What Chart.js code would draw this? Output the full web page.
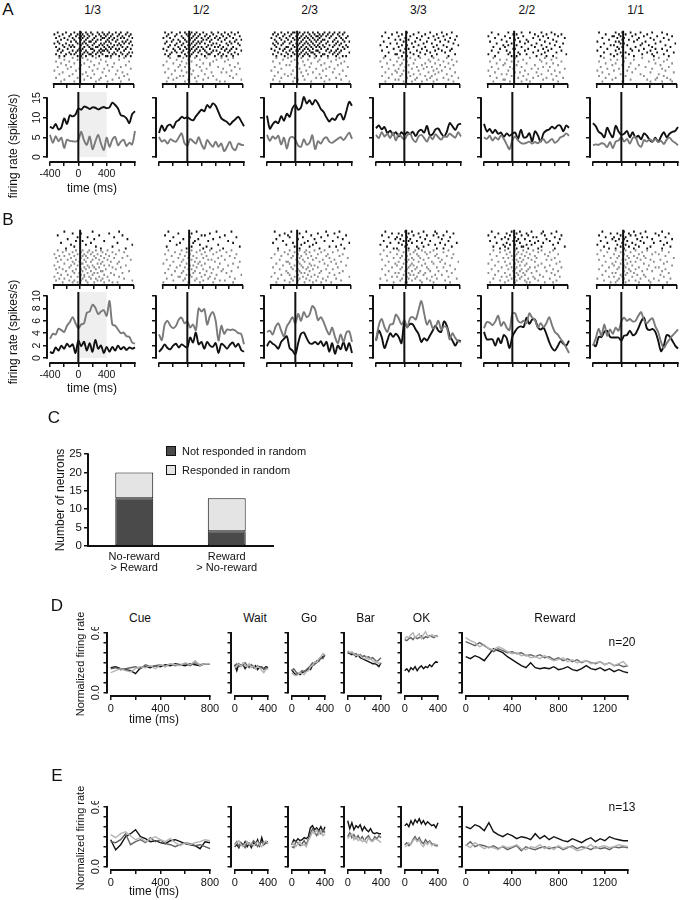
<!DOCTYPE html>
<html>
<head>
<meta charset="utf-8">
<script src="https://cdn.jsdelivr.net/npm/chart.js@4.4.1/dist/chart.umd.min.js"></script>
<style>
  html, body { margin: 0; padding: 0; background: #fff; }
  #fig { position: relative; width: 680px; height: 900px; overflow: hidden;
         font-family: "Liberation Sans", Arial, sans-serif; color: #111; }
  #fig canvas { position: absolute; }
  .t { position: absolute; white-space: nowrap; line-height: 1; }
  .sq { position: absolute; width: 8px; height: 8px; border: 1px solid #111; }
</style>
</head>
<body>
<div id="fig"></div>
<script>
// ---------- data ----------
const A_TITLES = ['1/3', '1/2', '2/3', '3/3', '2/2', '1/1'];
const RATE_T = [-400,-360,-320,-280,-240,-200,-160,-120,-80,-40,0,40,80,120,160,200,240,280,320,360,400,440,480,520,560,600,640,680,720,760,800];
const RATE_TIME_TICKS = [-400, -200, 0, 200, 400, 600, 800];
const RATE_TIME_LABELS = [-400, 0, 400];
const A_RATE_TICKS = [0, 5, 10, 15];
const B_RATE_TICKS = [0, 2, 4, 6, 8, 10];
const WINDOW_MS = [0, 400];

// panel A firing rate (spikes/s), one row per condition
const A_BLACK = [
  [7.7,7.3,8.4,7.0,7.5,9.8,8.4,10.6,10.3,10.8,12.3,12.0,12.8,12.6,12.2,12.6,12.5,12.1,12.4,12.7,12.4,12.6,13.8,13.2,12.3,10.6,10.4,9.8,8.6,10.9,11.6],
  [6.1,8.0,6.6,7.9,8.2,7.4,8.9,9.4,10.2,9.8,10.1,9.6,9.3,10.3,11.2,12.0,11.6,13.2,12.5,13.6,13.0,11.4,9.8,9.3,8.9,8.2,9.0,9.6,10.2,9.1,7.8],
  [10.5,7.2,8.3,9.0,8.6,10.4,9.2,11.0,10.2,12.4,13.2,12.0,12.6,15.2,13.6,14.4,13.3,14.5,13.6,12.2,11.4,10.0,9.0,9.8,9.4,10.6,10.9,9.5,11.6,14.0,13.0],
  [7.3,8.0,7.0,7.6,6.1,6.7,5.6,6.3,5.2,6.3,5.6,6.3,5.8,6.4,5.3,6.5,6.9,6.2,7.9,5.5,5.8,7.0,7.2,6.0,5.2,6.4,8.6,7.8,6.9,8.2,8.5],
  [8.4,6.5,7.1,6.1,6.9,5.9,6.2,5.1,6.0,5.4,5.9,6.2,4.6,6.9,5.0,5.1,6.0,4.0,6.5,5.5,3.9,6.0,6.7,7.0,7.7,7.2,8.0,7.9,6.5,8.0,7.4],
  [8.6,7.8,6.4,5.9,5.0,7.4,6.0,5.0,7.9,6.5,5.6,5.9,6.6,5.0,6.3,4.9,5.4,4.5,6.0,5.4,4.3,3.9,4.9,3.8,5.2,6.3,5.0,5.9,6.4,6.6,7.6]
];
const A_GRAY = [
  [5.6,3.6,5.3,4.0,4.9,2.3,4.4,4.1,4.0,3.9,4.3,6.4,4.2,3.1,5.2,2.0,3.9,5.6,3.4,1.8,4.9,2.6,4.4,5.1,3.0,3.9,4.4,2.8,3.6,3.2,6.6],
  [5.1,3.9,4.3,3.4,4.5,4.1,3.9,5.0,6.0,3.5,2.9,4.6,4.0,3.4,5.0,3.2,2.1,4.3,3.4,2.6,3.9,2.6,3.4,1.5,2.6,3.9,2.2,1.8,3.4,3.1,3.0],
  [5.6,4.1,5.2,4.6,5.4,3.2,4.9,2.1,4.8,5.1,4.4,2.9,2.6,4.5,3.1,3.6,5.5,2.0,4.0,3.4,4.6,5.0,3.9,3.6,4.1,4.6,5.0,4.3,5.2,6.2,4.6],
  [5.6,4.8,6.3,5.2,5.9,4.8,6.2,4.2,5.8,5.1,4.5,5.5,6.0,4.5,3.8,5.2,5.6,4.8,3.9,5.3,4.5,5.8,5.0,4.4,5.3,5.1,5.9,5.4,4.9,6.3,5.2],
  [5.0,4.6,5.4,4.2,5.0,4.4,5.5,4.6,3.2,2.0,4.2,5.2,4.2,3.6,3.4,3.6,3.9,3.4,3.8,3.5,4.1,4.5,3.6,4.0,4.6,3.6,4.1,5.0,5.3,6.0,5.4],
  [3.0,3.2,3.1,3.5,3.3,2.5,3.8,2.2,3.9,4.2,5.0,3.9,4.6,3.4,4.8,5.1,3.2,2.6,4.3,3.9,4.5,4.0,4.6,3.8,4.1,3.3,4.4,4.9,4.1,3.6,3.0]
];
// panel B firing rate (spikes/s)
const B_BLACK = [
  [1.0,0.8,1.7,1.2,2.0,1.5,2.3,1.8,2.2,0.8,2.8,1.9,2.6,1.2,2.4,1.0,2.9,1.5,2.0,0.8,1.8,1.0,1.8,1.2,2.0,1.4,1.8,1.3,1.7,1.5,1.7],
  [1.0,1.5,2.2,1.6,1.4,2.0,2.3,1.7,2.2,1.9,1.7,3.3,2.5,4.1,2.2,2.6,1.5,2.6,2.0,1.8,2.4,0.8,2.3,2.0,1.5,2.1,2.5,1.8,2.3,1.3,1.0],
  [1.9,2.7,2.3,2.0,1.5,2.6,3.1,3.5,1.6,1.2,0.6,2.4,3.9,4.1,3.2,2.4,2.3,2.6,2.2,2.7,1.9,2.6,1.0,2.4,0.7,2.0,1.4,2.6,1.2,2.4,0.8],
  [2.8,4.4,3.4,1.6,2.8,4.0,3.4,3.9,3.4,2.4,5.8,5.0,5.5,5.4,4.6,3.9,2.6,3.2,2.8,3.6,4.4,5.2,4.4,4.2,5.9,5.2,3.6,2.8,2.0,2.8,2.7],
  [4.2,3.0,3.0,3.0,2.0,3.2,2.4,3.7,3.2,1.6,3.4,4.3,4.9,5.1,5.0,6.5,5.5,6.2,6.2,5.0,4.6,4.9,3.9,2.6,1.6,1.2,1.9,2.7,2.3,2.0,2.8],
  [2.3,1.9,3.4,3.4,4.2,4.4,3.4,3.3,3.3,3.3,2.8,3.6,3.7,4.4,3.7,3.9,4.8,5.9,6.5,4.8,4.5,4.7,4.2,2.8,1.1,2.0,3.7,3.5,2.8,2.0,1.5]
];
const B_GRAY = [
  [3.1,3.9,3.8,4.7,4.5,4.2,5.2,5.8,6.6,5.6,4.8,5.4,5.6,7.3,7.5,8.6,8.1,7.1,7.5,7.7,6.8,9.2,5.4,5.2,4.6,4.0,4.1,3.5,3.4,2.5,2.3],
  [3.8,2.9,5.4,6.0,5.2,4.8,5.2,6.2,6.5,5.6,5.9,4.9,5.4,4.5,8.0,7.5,7.9,5.4,6.8,7.4,6.0,2.8,5.2,3.9,4.6,4.5,4.6,4.4,4.0,3.9,2.2],
  [4.2,4.4,3.8,5.0,5.6,4.4,3.5,5.1,5.8,6.6,5.6,7.1,6.0,7.4,6.6,7.0,8.4,7.8,6.1,6.6,5.8,4.6,3.8,4.9,3.4,2.4,3.8,2.6,4.1,4.3,2.6],
  [2.8,5.3,6.3,5.0,4.2,5.4,5.5,7.0,6.4,5.4,6.1,4.9,6.4,6.6,6.2,7.7,9.2,7.2,5.4,6.1,4.8,5.0,6.0,4.6,5.1,4.9,3.0,4.0,3.2,2.7,2.6],
  [4.8,5.8,5.7,5.3,5.9,6.8,5.2,5.8,4.9,4.5,7.2,7.2,6.0,5.7,6.0,5.6,7.2,6.5,6.1,4.9,5.6,5.0,5.6,6.6,5.3,4.2,3.8,3.1,2.5,1.7,0.8],
  [2.0,3.2,4.7,3.6,5.4,3.6,4.6,3.9,4.9,4.4,5.9,6.5,6.0,6.3,5.9,6.0,6.8,7.4,6.1,5.6,6.1,6.4,5.1,4.2,2.6,1.6,2.4,3.0,3.6,4.1,4.6]
];

// rasters: one string per trial, each character is the 25 ms bin of a spike (from -400 ms)
const SPIKE_BINS = '0123456789abcdefghijklmnopqrstuvwxyzABCDEFGHIJKL';
const A_RASTER_BLACK = [
  ['27cgjmqtxBEI','05aehknruwzDHK','39dgilpsvyCFJ','16bfhkotuxAEGL','48cgjnqswzCI','2adilmpvxBFHK','037ehjosuyDGJ','59bgknrtwACEL','16acilpquxzFI','38fhmnsvyBDHK','25begjortuwCG','49diknqsxAEJL','17achlmptzBFI','36egjnrvwyDHK'],
  ['15adhkotxBFJ','38egjmquzDH','27bfilpswAEK','04chknrvyCG','69dgjoqtxBIL','25aeilnszEH','18chkmpuwCFJ','47bfgjrtyDK','39dilnqvxAG','06aehkoszCFI','27cgjmpuwBEL','58bfilqtyDH','14dhnrsxAFJ','39aegkpvzCG'],
  ['26adehkmpswzCFI','148cgjnqtvyBEH','37bfilorsuxAFK','059dhkmptzDGJ','26aegjnqsvwCH','38ciloruyBEIL','147bfhkmptxDG','26dgjnqsvzCFJ','39aeilortwBHK','058chkmpuyEI','27bfgjnrsxADG','49diloptzCFL','16aehkmqvwBE','38cgjnruyDHJ'],
  ['3agnuBH','7dkryE','1bipwCK','5fmtzG','9choxDJ','2elsAF','6ajqvI','0dgnyCL','4bkrwE','8fhpzH','1cmsxBG','5eiouD','9akryJ','3dgnvF'],
  ['2ckpwC','6fhszEI','0aluxG','4dirAK','8gnvD','1bjoyF','5emtBJ','9chqwE','3akszH','7fgoxC','2bmuAI','6diryF','0cjnwL','4ehtzD'],
  ['1bfkqxD','5dhnuG','9aelsAJ','3cgpwE','7fjoyH','0bdmtC','4egrzL','8aiqvF','2cfnxI','6dkszD','0blpwG','4ehuAK','8cjrxE','2afmyH']
];
const A_RASTER_GRAY = [
  ['3bhpyG','6eksD','19mvJ','4cirA','7gowH','2alzE','8fquK','0dnxC','5jtF','3bhoBI','9kvG','1emsD','6irzJ','4cpwE'],
  ['4cjqzG','8fmwD','2bhuB','6eosJ','0aksE','9dmxH','3gqAK','7binF','1etzC','5hpI','acluE','38jrG','6fowL','2dkyB'],
  ['3aiqyF','7emtD','1cjsAI','5gowG','9bkuE','2fnzK','6hrxC','0dlvH','4ipB','8cmtF','2ajxJ','6eruD','1gkzG','5dowL'],
  ['2biowE','6eltzH','0aguCK','4dkrxF','8chpAI','1fmsvD','5bjqyG','9enwB','3ahtzJ','7dkoxE','1cirvH','5gmuCL','9blsyF','3ejpwI'],
  ['3gpyF','7blvC','1eiwI','5anzD','9hsG','2dkxB','6fquK','0cmAE','4gjtH','8bowC','1eluF','5irzJ','9anxD','3dkpG'],
  ['4hrB','8cmyG','1gvE','5bkzJ','9fpC','2jtH','6dnxD','0aiF','3lwK','7eqB','1hsE','5bAG','9kuzI','3fwDJ']
];
const B_RASTER_BLACK = [
  ['6nD','bgx','2rF','ekA','8oI','dhu','4mC','ajL','cpz','7sH'],
  ['3kwF','9hs','1npB','6gyI','clu','4jrD','aiG','8mx','2hqK','eotA'],
  ['2clxF','8hsC','5aoyJ','bjuE','3gqH','7mwB','1dkrL','9ipG','enzD','4htI'],
  ['3fjqxE','7bhnyI','1dkswC','5agozG','9cirB','2ehmuF','6bjpAK','0dgtxD','4fmqH','8ahnyC'],
  ['2ejqxF','6bhnwC','0dkoyI','4agrtE','8cimzH','1fhpuB','5bjsxG','9dgnqD','3aklwK','7chouE'],
  ['3gmtD','8cjqzH','1eknB','5ahruF','9dgoxJ','2biqC','6flsyG','0chnE','4ejpwI','7bgmuD']
];
const B_RASTER_GRAY = [
  ['27dhlpswD','5bgkntzG','09eimqvB','36chjosxI','1agkpuAF','48dinrwK','2bfjmtyD','6cghqsC','0aeknuxH','39ilorzE','15dgjpvB','7bhmstJ','2cfkoqyF','48ginuA','0aeilrwD','36hmptG','19cgjqsxL','5bekouzC'],
  ['3bhmsyF','7ekpwC','1agnuI','5diqzE','9fkoxH','2chrtB','6bjmvK','0elpyG','4aginD','8dksxJ','3fhouA','7cjqzF','1bimtC','5egpwL','9ahnsE','2dkrvH','6cjoyB','0fmuG'],
  ['4bhlqwE','8eknuB','2aglsyH','6dioxF','0chmrzK','5fjpvC','9agktAG','3bhnwD','7eioqyJ','1cjmsE','5dglpxB','9fhnuH','2aiktzF','6bgmqC','0ejosyL','4chlvD','8dgnrxG','3bkpuA'],
  ['2bhlpwF','6ekruC','0aimsyI','4dgnxE','8cjotzH','1fhkqB','5bgnvAL','9ejrwD','3aikpG','7dhmsyC','1cgltJ','5fjouzE','9bhnrH','3eikqxB','7agmvF','0dhlsyK','4cjouD','8fgpwG'],
  ['3aglrwD','7dinuB','1bhkpyG','5egmsA','9cjotE','2fhlqzC','6aiksH','0dgnwF','4bjmuB','8ehpsyI','2cgkoD','6fjntzG','0ahlqC','4dimvE','8bgkrxH','3ejosB','7chmuF','1agnpyD'],
  ['2bhnuD','6ekrzH','0agpxB','4dimsF','8cjotK','1fhqwC','5bknyG','9eisE','3aglvJ','7dhpzB','1cjnuF','5gkrxD','9bimH','3ehosC','7afltE','0dgqyI','4cjnvB','8bhpwG']
];

// panel C
const C_CATEGORIES = [['No-reward', '> Reward'], ['Reward', '> No-reward']];
const C_NOT_RESPONDED = [13, 4];
const C_RESPONDED = [7, 9];
const C_TICKS = [0, 5, 10, 15, 20, 25];

// panels D and E
const EPOCHS = ['Cue', 'Wait', 'Go', 'Bar', 'OK', 'Reward'];
const T_CUE = [0,40,80,120,160,200,240,280,320,360,400,440,480,520,560,600,640,680,720,760,800];
const T_SHORT = [0,25,50,75,100,125,150,175,200,225,250,275,300,325,350,375,400];
const T_REWARD = [0,40,80,120,160,200,240,280,320,360,400,440,480,520,560,600,640,680,720,760,800,840,880,920,960,1000,1040,1080,1120,1160,1200,1240,1280,1320,1360,1400];
const EPOCH_T = [T_CUE, T_SHORT, T_SHORT, T_SHORT, T_SHORT, T_REWARD];
const EPOCH_TICKS = [[0,200,400,600,800],[0,200,400],[0,200,400],[0,200,400],[0,200,400],[0,200,400,600,800,1000,1200,1400]];
const EPOCH_LABELS = [[0,400,800],[0,400],[0,400],[0,400],[0,400],[0,400,800,1200]];
const NORM_TICKS = [0, 0.1, 0.2, 0.3, 0.4, 0.5, 0.6];
const NORM_LABELS = [0, 0.6];
const D_N = 'n=20';
const E_N = 'n=13';

const D_BLACK = [
  [0.25,0.26,0.24,0.23,0.22,0.19,0.25,0.26,0.25,0.27,0.26,0.28,0.27,0.29,0.28,0.27,0.29,0.28,0.27,0.29,0.29],
  [0.28,0.22,0.29,0.27,0.28,0.24,0.27,0.26,0.28,0.25,0.27,0.23,0.26,0.25,0.24,0.26,0.25],
  [0.23,0.20,0.18,0.19,0.18,0.20,0.21,0.22,0.24,0.23,0.27,0.29,0.30,0.33,0.34,0.36,0.37],
  [0.40,0.39,0.38,0.39,0.36,0.38,0.35,0.34,0.33,0.32,0.31,0.30,0.29,0.29,0.28,0.26,0.30],
  [0.22,0.24,0.21,0.25,0.23,0.26,0.22,0.25,0.27,0.24,0.26,0.25,0.28,0.26,0.29,0.31,0.30],
  [0.36,0.34,0.37,0.35,0.32,0.38,0.44,0.42,0.40,0.36,0.33,0.30,0.27,0.25,0.30,0.25,0.24,0.25,0.24,0.26,0.23,0.24,0.26,0.23,0.22,0.24,0.27,0.24,0.23,0.25,0.22,0.24,0.21,0.23,0.21,0.20]
];
const D_DARK = [
  [0.24,0.25,0.23,0.24,0.25,0.26,0.24,0.28,0.26,0.27,0.28,0.26,0.29,0.27,0.28,0.29,0.27,0.30,0.28,0.29,0.29],
  [0.27,0.29,0.26,0.28,0.27,0.30,0.27,0.25,0.28,0.26,0.24,0.27,0.25,0.26,0.23,0.25,0.24],
  [0.22,0.24,0.21,0.19,0.20,0.22,0.21,0.23,0.25,0.27,0.30,0.28,0.32,0.31,0.35,0.34,0.38],
  [0.41,0.40,0.39,0.38,0.39,0.37,0.38,0.36,0.37,0.35,0.36,0.34,0.35,0.33,0.31,0.33,0.35],
  [0.53,0.52,0.54,0.55,0.53,0.56,0.54,0.55,0.57,0.54,0.56,0.55,0.57,0.56,0.55,0.57,0.56],
  [0.51,0.49,0.47,0.50,0.47,0.44,0.41,0.44,0.42,0.40,0.41,0.39,0.40,0.37,0.38,0.36,0.38,0.35,0.36,0.33,0.35,0.32,0.34,0.31,0.33,0.30,0.32,0.30,0.29,0.31,0.28,0.30,0.27,0.28,0.26,0.27]
];
const D_LIGHT = [
  [0.20,0.22,0.24,0.22,0.21,0.24,0.26,0.25,0.27,0.24,0.28,0.26,0.29,0.28,0.27,0.30,0.28,0.32,0.27,0.29,0.29],
  [0.25,0.27,0.29,0.26,0.30,0.28,0.26,0.29,0.25,0.27,0.24,0.26,0.25,0.22,0.20,0.23,0.24],
  [0.20,0.18,0.17,0.18,0.20,0.19,0.18,0.21,0.22,0.26,0.27,0.31,0.30,0.34,0.36,0.39,0.38],
  [0.42,0.40,0.41,0.39,0.37,0.38,0.37,0.35,0.34,0.36,0.33,0.34,0.32,0.30,0.31,0.29,0.30],
  [0.54,0.56,0.55,0.58,0.60,0.55,0.57,0.59,0.54,0.58,0.61,0.57,0.56,0.58,0.57,0.56,0.57],
  [0.55,0.52,0.50,0.46,0.48,0.44,0.43,0.46,0.44,0.41,0.39,0.40,0.37,0.38,0.35,0.36,0.34,0.37,0.34,0.32,0.33,0.35,0.31,0.33,0.30,0.31,0.32,0.29,0.30,0.31,0.28,0.30,0.27,0.29,0.31,0.26]
];
const E_BLACK = [
  [0.27,0.17,0.22,0.30,0.33,0.37,0.30,0.28,0.25,0.26,0.24,0.23,0.26,0.27,0.25,0.23,0.22,0.21,0.18,0.25,0.24],
  [0.20,0.22,0.19,0.24,0.21,0.25,0.20,0.23,0.19,0.24,0.22,0.27,0.21,0.29,0.22,0.24,0.25],
  [0.22,0.27,0.25,0.28,0.26,0.27,0.29,0.28,0.30,0.39,0.41,0.37,0.39,0.36,0.40,0.35,0.40],
  [0.46,0.38,0.44,0.37,0.41,0.39,0.42,0.36,0.40,0.37,0.35,0.38,0.34,0.33,0.34,0.33,0.33],
  [0.41,0.43,0.40,0.46,0.42,0.47,0.44,0.48,0.43,0.46,0.42,0.45,0.43,0.41,0.42,0.39,0.44],
  [0.40,0.38,0.42,0.40,0.36,0.44,0.35,0.32,0.30,0.33,0.31,0.28,0.30,0.29,0.27,0.33,0.28,0.31,0.27,0.30,0.28,0.26,0.25,0.28,0.26,0.24,0.27,0.29,0.25,0.28,0.26,0.30,0.28,0.27,0.26,0.26]
];
const E_DARK = [
  [0.25,0.24,0.27,0.33,0.22,0.25,0.27,0.24,0.29,0.25,0.27,0.23,0.22,0.20,0.22,0.24,0.23,0.21,0.22,0.20,0.18],
  [0.22,0.25,0.20,0.24,0.22,0.19,0.25,0.23,0.21,0.26,0.24,0.20,0.23,0.25,0.22,0.24,0.23],
  [0.20,0.19,0.25,0.24,0.21,0.23,0.26,0.22,0.28,0.33,0.38,0.35,0.31,0.36,0.33,0.37,0.34],
  [0.30,0.34,0.29,0.32,0.28,0.31,0.27,0.30,0.26,0.29,0.31,0.27,0.26,0.30,0.28,0.31,0.29],
  [0.22,0.24,0.21,0.23,0.27,0.30,0.26,0.29,0.25,0.23,0.27,0.24,0.26,0.23,0.22,0.21,0.21],
  [0.21,0.25,0.20,0.22,0.21,0.19,0.21,0.18,0.20,0.17,0.19,0.21,0.16,0.20,0.18,0.17,0.19,0.20,0.18,0.19,0.20,0.17,0.19,0.21,0.18,0.20,0.19,0.17,0.20,0.18,0.19,0.17,0.20,0.19,0.20,0.19]
];
const E_LIGHT = [
  [0.32,0.29,0.33,0.35,0.31,0.27,0.29,0.25,0.28,0.30,0.27,0.25,0.28,0.24,0.21,0.24,0.22,0.24,0.25,0.27,0.26],
  [0.21,0.24,0.26,0.22,0.20,0.23,0.25,0.22,0.24,0.21,0.23,0.25,0.22,0.20,0.24,0.26,0.23],
  [0.24,0.22,0.20,0.23,0.25,0.21,0.22,0.20,0.26,0.30,0.35,0.33,0.37,0.32,0.36,0.31,0.33],
  [0.28,0.31,0.33,0.27,0.30,0.26,0.28,0.25,0.27,0.24,0.29,0.26,0.25,0.28,0.27,0.26,0.24],
  [0.20,0.21,0.24,0.22,0.26,0.28,0.25,0.27,0.22,0.20,0.24,0.22,0.25,0.21,0.23,0.22,0.22],
  [0.22,0.19,0.24,0.21,0.18,0.20,0.19,0.17,0.21,0.19,0.20,0.22,0.18,0.17,0.20,0.19,0.22,0.18,0.20,0.17,0.21,0.18,0.20,0.19,0.16,0.17,0.19,0.22,0.18,0.20,0.21,0.19,0.20,0.22,0.21,0.20]
];

// ---------- layout & style ----------
const FONT = '"Liberation Sans", Arial, sans-serif';
const INK = '#111';
const GRAY_LINE = '#7a7a7a';
const GRAY_DOT = '#8c8c8c';
const COL_X = [50, 158.6, 267.2, 375.8, 484.4, 593];   // pixel of -400 ms in each column
const COL_W = 85;
const GAP = 3;
const X_MIN = -400 - GAP * 1200 / COL_W;
const A_GEO = { rasterTop: 27, rasterBottom: 84, top: 92, bottom: 162, min: -1.27, max: 16.5 };
const B_GEO = { rasterTop: 226, rasterBottom: 285, top: 292, bottom: 363, min: -0.81, max: 10.65 };
const EP_X0 = [111, 235, 291.7, 347.7, 404.3, 465.5];
const EP_X1 = [210, 268.3, 325, 381, 437.7, 628];
const EP_TITLE_X = [140, 255, 309, 365.5, 421.5, 555];

Chart.defaults.font.family = FONT;
Chart.defaults.color = INK;
Chart.defaults.animation = false;
Chart.defaults.events = [];
Chart.defaults.plugins.legend.display = false;
Chart.defaults.plugins.tooltip.enabled = false;

const fig = document.getElementById('fig');

// range-frame spines, event line at 0 ms and analysis window shading
Chart.register({
  id: 'frame',
  beforeDatasetsDraw(chart, args, o) {
    if (!o.shade) return;
    const { ctx, chartArea: a, scales: { x, y } } = chart;
    const x0 = x.getPixelForValue(o.shade[0]), x1 = x.getPixelForValue(o.shade[1]);
    ctx.save();
    ctx.fillStyle = '#efefef';
    ctx.fillRect(x0, a.top, x1 - x0, y.getPixelForValue(0) - a.top);
    ctx.restore();
  },
  afterDatasetsDraw(chart, args, o) {
    const { ctx, chartArea: a, scales: { x, y } } = chart;
    ctx.save();
    ctx.strokeStyle = INK;
    ctx.lineWidth = o.width || 2;
    ctx.beginPath();
    if (o.xSpine) {
      ctx.moveTo(x.getPixelForValue(o.xSpine[0]) - 0.7, a.bottom);
      ctx.lineTo(x.getPixelForValue(o.xSpine[1]) + 0.7, a.bottom);
    }
    if (o.ySpine) {
      ctx.moveTo(a.left, y.getPixelForValue(o.ySpine[0]) + 0.7);
      ctx.lineTo(a.left, y.getPixelForValue(o.ySpine[1]) - 0.7);
    }
    if (o.event !== undefined && o.event !== null) {
      const ex = x.getPixelForValue(o.event);
      ctx.moveTo(ex, a.top);
      ctx.lineTo(ex, a.bottom);
    }
    ctx.stroke();
    ctx.restore();
  }
});

// chart area = area; pad = [left, right, top, bottom] room for ticks and labels
function place(area, pad, config) {
  const L = Math.round(area.x), T = Math.round(area.y);
  const W = Math.round(area.w), H = Math.round(area.h);
  const c = document.createElement('canvas');
  c.width = W + pad[0] + pad[1];
  c.height = H + pad[2] + pad[3];
  c.style.left = (L - pad[0]) + 'px';
  c.style.top = (T - pad[2]) + 'px';
  c.style.width = c.width + 'px';
  c.style.height = c.height + 'px';
  fig.appendChild(c);
  const scales = config.options.scales;
  let xShown = false, yShown = false;
  for (const id in scales) {
    if (scales[id].display === false) continue;
    if (id === 'x') xShown = true; else yShown = true;
    scales[id].afterFit = s => {
      if (s.isHorizontal()) s.height = pad[3]; else s.width = pad[0];
      s.paddingLeft = s.paddingRight = s.paddingTop = s.paddingBottom = 0;
    };
  }
  config.options = Object.assign({
    responsive: false, devicePixelRatio: 1, animation: false,
    layout: { padding: { left: yShown ? 0 : pad[0], right: pad[1], top: pad[2], bottom: xShown ? 0 : pad[3] } }
  }, config.options);
  return new Chart(c, config);
}

function tickAxis(o) {
  const labels = o.labels || [];
  return {
    type: 'linear', min: o.min, max: o.max,
    afterBuildTicks: s => { s.ticks = o.ticks.map(v => ({ value: v })); },
    grid: { drawOnChartArea: false, drawTicks: true, tickLength: o.len || 4, color: INK, lineWidth: 1.5 },
    border: { display: false },
    ticks: {
      autoSkip: false, padding: o.pad === undefined ? 2 : o.pad, color: INK,
      font: { size: o.size || 10.5 },
      minRotation: o.rot || 0, maxRotation: o.rot || 0,
      crossAlign: o.rot ? 'center' : 'near',
      callback: v => {
        const hit = labels.find(l => Math.abs(l - v) < 1e-9);
        return hit === undefined ? '' : (o.fmt ? o.fmt(v) : String(v));
      }
    }
  };
}

function txt(s, x, y, size, rot) {
  const d = document.createElement('div');
  d.className = 't';
  d.textContent = s;
  d.style.left = x + 'px';
  d.style.top = y + 'px';
  d.style.fontSize = size + 'px';
  d.style.transform = 'translate(-50%,-50%)' + (rot ? ' rotate(-90deg)' : '');
  fig.appendChild(d);
}

function spikes(rows, offset) {
  const pts = [];
  rows.forEach((row, i) => {
    for (const ch of row) pts.push({ x: -400 + (SPIKE_BINS.indexOf(ch) + 0.5) * 25, y: i + offset });
  });
  return pts;
}

const dots = (data, color) => ({
  data, pointStyle: 'line', pointRotation: 90, pointRadius: 1.05,
  pointBorderWidth: 1.75, pointBorderColor: color, showLine: false
});
const trace = (ts, vals, color, w, tension) => ({
  data: ts.map((t, i) => ({ x: t, y: vals[i] })),
  borderColor: color, borderWidth: w, pointRadius: 0, tension: tension, clip: 3, fill: false
});

// ---------- panels A and B ----------
function rasterPanel(k, geo, blackRows, grayRows) {
  const nB = blackRows.length, n = nB + grayRows.length;
  place({ x: COL_X[k] - GAP, y: geo.rasterTop, w: COL_W + GAP, h: geo.rasterBottom - geo.rasterTop }, [2, 4, 2, 8], {
    type: 'scatter',
    data: { datasets: [dots(spikes(grayRows, nB), GRAY_DOT), dots(spikes(blackRows, 0), INK)] },
    options: {
      plugins: { frame: { xSpine: [-400, 800], event: 0 } },
      scales: {
        x: tickAxis({ min: X_MIN, max: 800, ticks: RATE_TIME_TICKS, labels: [] }),
        y: { display: false, min: -1, max: n + 0.4, reverse: true }
      }
    }
  });
}

function ratePanel(k, geo, yTicks, black, gray) {
  place({ x: COL_X[k] - GAP, y: geo.top, w: COL_W + GAP, h: geo.bottom - geo.top }, [32, 4, 2, 24], {
    type: 'line',
    data: { datasets: [trace(RATE_T, gray, GRAY_LINE, 1.9, 0.3), trace(RATE_T, black, INK, 1.9, 0.3)] },
    options: {
      plugins: { frame: { xSpine: [-400, 800], ySpine: [yTicks[0], yTicks[yTicks.length - 1]], event: 0,
                          shade: k === 0 ? WINDOW_MS : null } },
      scales: {
        x: tickAxis({ min: X_MIN, max: 800, ticks: RATE_TIME_TICKS, labels: k === 0 ? RATE_TIME_LABELS : [] }),
        y: tickAxis({ min: geo.min, max: geo.max, ticks: yTicks, labels: k === 0 ? yTicks : [], rot: 90, pad: 0 })
      }
    }
  });
}

for (let k = 0; k < 6; k++) {
  rasterPanel(k, A_GEO, A_RASTER_BLACK[k], A_RASTER_GRAY[k]);
  ratePanel(k, A_GEO, A_RATE_TICKS, A_BLACK[k], A_GRAY[k]);
  rasterPanel(k, B_GEO, B_RASTER_BLACK[k], B_RASTER_GRAY[k]);
  ratePanel(k, B_GEO, B_RATE_TICKS, B_BLACK[k], B_GRAY[k]);
  txt(A_TITLES[k], COL_X[k] + COL_W / 2, 10, 12);
}
txt('A', 8, 9, 17);
txt('B', 8, 219, 17);
txt('firing rate (spikes/s)', 13, 146, 12, true);
txt('firing rate (spikes/s)', 13, 332, 12, true);
txt('time (ms)', 92, 188, 12);
txt('time (ms)', 92, 388, 12);

// ---------- panel C ----------
place({ x: 88, y: 450, w: 185, h: 96 }, [30, 10, 6, 30], {
  type: 'bar',
  data: {
    labels: C_CATEGORIES,
    datasets: [
      { label: 'Not responded in random', data: C_NOT_RESPONDED, backgroundColor: '#4a4a4a',
        borderColor: INK, borderWidth: 1, borderSkipped: false, barPercentage: 0.41, categoryPercentage: 1 },
      { label: 'Responded in random', data: C_RESPONDED, backgroundColor: '#e4e4e4',
        borderColor: INK, borderWidth: 1, borderSkipped: false, barPercentage: 0.41, categoryPercentage: 1 }
    ]
  },
  options: {
    plugins: { frame: { ySpine: [0, 25] } },
    scales: {
      x: { stacked: true, grid: { display: false, drawTicks: false },
           border: { display: true, color: INK, width: 2 },
           ticks: { padding: 5, color: INK, font: { size: 11, lineHeight: 1 } } },
      y: Object.assign(tickAxis({ min: 0, max: 26.1, ticks: C_TICKS, labels: C_TICKS, size: 11.5 }), { stacked: true })
    }
  }
});
txt('C', 54, 417, 17);
txt('Number of neurons', 60, 500, 12, true);
[['Not responded in random', '#4a4a4a', 450.5], ['Responded in random', '#e4e4e4', 470]].forEach(([s, col, y]) => {
  const q = document.createElement('div');
  q.className = 'sq';
  q.style.left = '166px'; q.style.top = (y - 5) + 'px'; q.style.background = col;
  fig.appendChild(q);
  const d = document.createElement('div');
  d.className = 't';
  d.textContent = s;
  d.style.left = '182px'; d.style.top = y + 'px'; d.style.fontSize = '11px';
  d.style.transform = 'translate(0,-50%)';
  fig.appendChild(d);
});

// ---------- panels D and E ----------
const epochMax = k => EPOCH_TICKS[k][EPOCH_TICKS[k].length - 1];

function epochPanels(top, bottom, black, dark, light) {
  for (let k = 0; k < 6; k++) {
    const pxPerMs = (EP_X1[k] - EP_X0[k]) / epochMax(k);
    const left = EP_X0[k] - 3.7;
    place({ x: left, y: top, w: EP_X1[k] - left, h: bottom - top }, [k === 0 ? 30 : 6, 14, 3, 18], {
      type: 'line',
      data: { datasets: [
        trace(EPOCH_T[k], light[k], '#b4b4b4', 1.4, 0),
        trace(EPOCH_T[k], dark[k], '#626262', 1.4, 0),
        trace(EPOCH_T[k], black[k], INK, 1.4, 0)
      ] },
      options: {
        plugins: { frame: { xSpine: [0, epochMax(k)], ySpine: [0, 0.6] } },
        scales: {
          x: tickAxis({ min: -3.7 / pxPerMs, max: epochMax(k), ticks: EPOCH_TICKS[k], labels: EPOCH_LABELS[k], size: 11, len: 4 }),
          y: tickAxis({ min: -0.033, max: 0.627, ticks: NORM_TICKS, labels: k === 0 ? NORM_LABELS : [],
                        rot: 90, pad: 0, size: 11, len: 3.5, fmt: v => v.toFixed(1) })
        }
      }
    });
  }
}

epochPanels(630, 696, D_BLACK, D_DARK, D_LIGHT);
epochPanels(804, 870, E_BLACK, E_DARK, E_LIGHT);
EPOCHS.forEach((e, k) => txt(e, EP_TITLE_X[k], 617.5, 12));
txt('D', 57, 605, 17);
txt('E', 57, 775, 17);
txt(D_N, 622, 642, 12);
txt(E_N, 622, 807, 12);
txt('Normalized firing rate', 80, 664, 11, true);
txt('Normalized firing rate', 80, 838, 11, true);
txt('time (ms)', 154, 719, 12);
txt('time (ms)', 154, 891, 12);
</script>
</body>
</html>
